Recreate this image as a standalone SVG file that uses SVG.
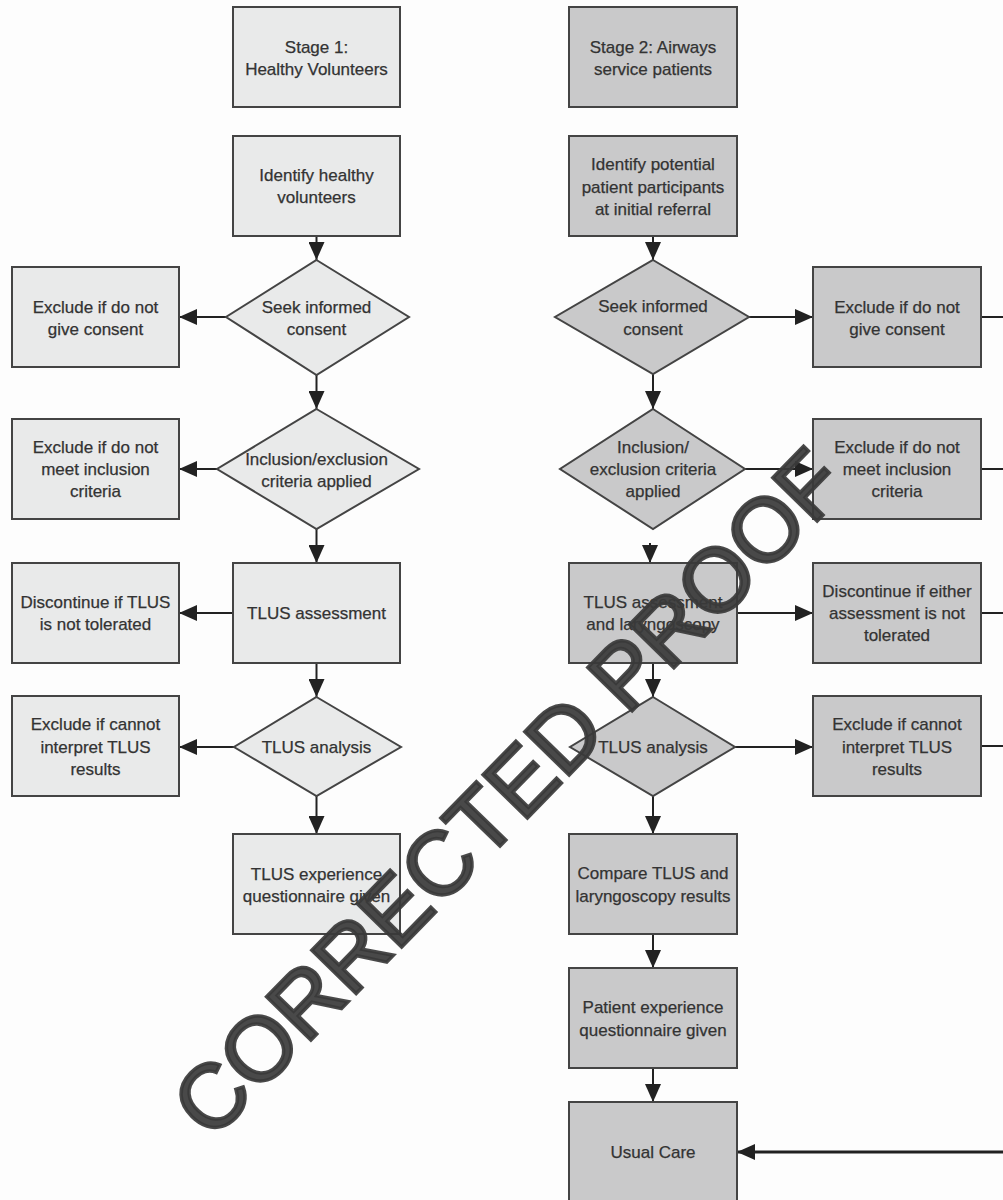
<svg xmlns="http://www.w3.org/2000/svg" width="1003" height="1200" viewBox="0 0 1003 1200">
<defs>
<marker id="ah" viewBox="0 0 18 16" refX="18" refY="8" markerWidth="18" markerHeight="16" markerUnits="userSpaceOnUse" orient="auto">
<path d="M0,0 L18,8 L0,16 Z" fill="#222"/>
</marker>
<style>
.l{fill:#e9eaea;stroke:#444;stroke-width:2}
.r{fill:#c9c9ca;stroke:#444;stroke-width:2}
text{font-family:"Liberation Sans",Arial,sans-serif;font-size:17px;fill:#333;stroke:#333;stroke-width:0.25;text-anchor:middle}
.c{stroke:#222;stroke-width:2;fill:none}
.ca{stroke:#222;stroke-width:2;fill:none;marker-end:url(#ah)}
.wm{font-family:"Liberation Sans",Arial,sans-serif;font-size:90px;font-weight:normal;fill:#3a3a3a;stroke:#3a3a3a;stroke-width:3.5;stroke-linejoin:miter;fill-opacity:0.92;stroke-opacity:0.92}
</style>
</defs>
<rect width="1003" height="1200" fill="#fdfdfd"/>

<g id="connectors">
<line class="ca" x1="316.5" y1="236" x2="316.5" y2="260"/>
<line class="ca" x1="226" y1="317" x2="179" y2="317"/>
<line class="ca" x1="316.5" y1="375" x2="316.5" y2="409"/>
<line class="ca" x1="217" y1="469" x2="179" y2="469"/>
<line class="ca" x1="316.5" y1="529" x2="316.5" y2="563"/>
<line class="ca" x1="233" y1="613" x2="179" y2="613"/>
<line class="ca" x1="316.5" y1="663" x2="316.5" y2="697"/>
<line class="ca" x1="234" y1="747" x2="179" y2="747"/>
<line class="ca" x1="316.5" y1="796" x2="316.5" y2="834"/>

<line class="ca" x1="653" y1="236" x2="653" y2="260"/>
<line class="ca" x1="749" y1="317" x2="813" y2="317"/>
<line class="ca" x1="653" y1="374" x2="653" y2="409"/>
<line class="ca" x1="745" y1="469" x2="813" y2="469"/>
<line class="ca" x1="650" y1="543" x2="650" y2="563"/>
<line class="ca" x1="737" y1="613" x2="813" y2="613"/>
<line class="ca" x1="653" y1="663" x2="653" y2="697"/>
<line class="ca" x1="735" y1="747" x2="813" y2="747"/>
<line class="ca" x1="653" y1="796" x2="653" y2="834"/>
<line class="ca" x1="653" y1="934" x2="653" y2="968"/>
<line class="ca" x1="653" y1="1068" x2="653" y2="1102"/>

<line class="c" x1="981" y1="317" x2="1003" y2="317"/>
<line class="c" x1="981" y1="469" x2="1003" y2="469"/>
<line class="c" x1="981" y1="613" x2="1003" y2="613"/>
<line class="c" x1="981" y1="746" x2="1003" y2="746"/>
<line class="ca" style="stroke-width:3" x1="1003" y1="1152" x2="737" y2="1152"/>
</g>

<g id="stage1">
<rect class="l" x="233" y="7" width="167" height="100"/>
<text x="316.5" y="53">Stage 1:</text>
<text x="316.5" y="75">Healthy Volunteers</text>
</g>
<g id="identify-healthy">
<rect class="l" x="233" y="136" width="167" height="100"/>
<text x="316.5" y="181">Identify healthy</text>
<text x="316.5" y="203">volunteers</text>
</g>
<g id="seek-consent-1">
<polygon class="l" points="316.5,260 409,317 316.5,375 226,317"/>
<text x="316.5" y="313">Seek informed</text>
<text x="316.5" y="335">consent</text>
</g>
<g id="exclude-consent-1">
<rect class="l" x="12" y="267" width="167" height="100"/>
<text x="95.5" y="313">Exclude if do not</text>
<text x="95.5" y="335">give consent</text>
</g>
<g id="inclusion-1">
<polygon class="l" points="316.5,409 419,469 316.5,529 217,469"/>
<text x="316.5" y="465">Inclusion/exclusion</text>
<text x="316.5" y="487">criteria applied</text>
</g>
<g id="exclude-inclusion-1">
<rect class="l" x="12" y="419" width="167" height="100"/>
<text x="95.5" y="453">Exclude if do not</text>
<text x="95.5" y="475">meet inclusion</text>
<text x="95.5" y="497">criteria</text>
</g>
<g id="tlus-assessment-1">
<rect class="l" x="233" y="563" width="167" height="100"/>
<text x="316.5" y="619">TLUS assessment</text>
</g>
<g id="discontinue-1">
<rect class="l" x="12" y="563" width="167" height="100"/>
<text x="95.5" y="608">Discontinue if TLUS</text>
<text x="95.5" y="630">is not tolerated</text>
</g>
<g id="tlus-analysis-1">
<polygon class="l" points="316.5,697 401,747 316.5,796 234,747"/>
<text x="316.5" y="753">TLUS analysis</text>
</g>
<g id="exclude-interpret-1">
<rect class="l" x="12" y="696" width="167" height="100"/>
<text x="95.5" y="730">Exclude if cannot</text>
<text x="95.5" y="753">interpret TLUS</text>
<text x="95.5" y="775">results</text>
</g>
<g id="tlus-experience">
<rect class="l" x="233" y="834" width="167" height="100"/>
<text x="316.5" y="880">TLUS experience</text>
<text x="316.5" y="902">questionnaire given</text>
</g>

<g id="stage2">
<rect class="r" x="569" y="7" width="168" height="100"/>
<text x="653" y="53">Stage 2: Airways</text>
<text x="653" y="75">service patients</text>
</g>
<g id="identify-patients">
<rect class="r" x="569" y="136" width="168" height="100"/>
<text x="653" y="170">Identify potential</text>
<text x="653" y="193">patient participants</text>
<text x="653" y="215">at initial referral</text>
</g>
<g id="seek-consent-2">
<polygon class="r" points="653,260 749,317 653,374 555,317"/>
<text x="653" y="312">Seek informed</text>
<text x="653" y="335">consent</text>
</g>
<g id="exclude-consent-2">
<rect class="r" x="813" y="267" width="168" height="100"/>
<text x="897" y="313">Exclude if do not</text>
<text x="897" y="335">give consent</text>
</g>
<g id="inclusion-2">
<polygon class="r" points="653,409 745,469 653,529 560,469"/>
<text x="653" y="453">Inclusion/</text>
<text x="653" y="475">exclusion criteria</text>
<text x="653" y="497">applied</text>
</g>
<g id="exclude-inclusion-2">
<rect class="r" x="813" y="419" width="168" height="100"/>
<text x="897" y="453">Exclude if do not</text>
<text x="897" y="475">meet inclusion</text>
<text x="897" y="497">criteria</text>
</g>
<g id="tlus-assessment-2">
<rect class="r" x="569" y="563" width="168" height="100"/>
<text x="653" y="608">TLUS assessment</text>
<text x="653" y="630">and laryngoscopy</text>
</g>
<g id="discontinue-2">
<rect class="r" x="813" y="563" width="168" height="100"/>
<text x="897" y="597">Discontinue if either</text>
<text x="897" y="619">assessment is not</text>
<text x="897" y="641">tolerated</text>
</g>
<g id="tlus-analysis-2">
<polygon class="r" points="653,697 735,747 653,796 570,747"/>
<text x="653" y="753">TLUS analysis</text>
</g>
<g id="exclude-interpret-2">
<rect class="r" x="813" y="696" width="168" height="100"/>
<text x="897" y="730">Exclude if cannot</text>
<text x="897" y="753">interpret TLUS</text>
<text x="897" y="775">results</text>
</g>
<g id="compare">
<rect class="r" x="569" y="834" width="168" height="100"/>
<text x="653" y="879">Compare TLUS and</text>
<text x="653" y="902">laryngoscopy results</text>
</g>
<g id="patient-experience">
<rect class="r" x="569" y="968" width="168" height="100"/>
<text x="653" y="1013">Patient experience</text>
<text x="653" y="1036">questionnaire given</text>
</g>
<g id="usual-care">
<rect class="r" x="569" y="1102" width="168" height="110"/>
<text x="653" y="1158">Usual Care</text>
</g>

<g id="watermark" transform="translate(508,792) rotate(-45.7)">
<text class="wm" x="0" y="32">CORRECTED PROOF</text>
</g>
</svg>
